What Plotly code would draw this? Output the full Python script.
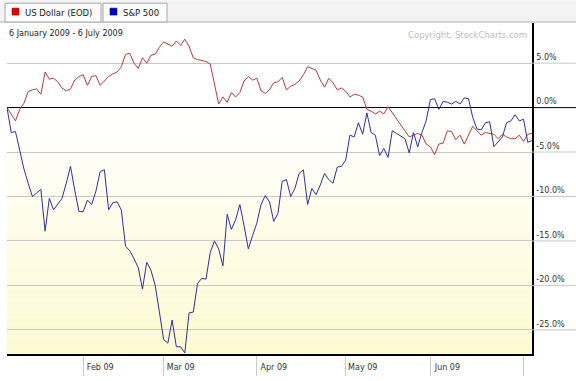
import plotly.graph_objects as go

# Trading-day index (0 = 6 Jan 2009, 124 = 6 Jul 2009)
days = list(range(125))

usd = [0.0, -0.8, -1.5, -0.2, 0.5, 1.8, 2.0, 2.1, 1.5, 4.0,
       3.2, 3.3, 2.9, 2.2, 1.9, 2.1, 3.1, 3.5, 3.7, 2.5,
       3.5, 3.6, 2.5, 3.0, 3.5, 3.8, 4.0, 4.6, 6.0, 6.1,
       5.0, 4.4, 5.6, 5.0, 5.9, 6.0, 6.8, 7.4, 7.1, 6.9,
       7.5, 7.0, 7.7, 6.9, 5.6, 5.4, 5.3, 5.2, 4.9, 2.5,
       0.4, 1.2, 0.6, 1.7, 1.2, 1.7, 3.0, 3.5, 3.1, 3.3,
       1.9, 1.6, 2.0, 2.8, 2.9, 3.4, 2.0, 2.4, 2.6, 3.0,
       3.7, 4.6, 4.4, 4.2, 3.1, 2.3, 3.3, 2.8, 2.0, 2.2,
       1.85, 1.2, 1.5, 1.4, 1.2, -0.2, -0.4, -0.7, -0.4, -0.7,
       0.1, -0.6, -1.3, -2.0, -2.6, -3.3, -3.1, -2.9, -3.1, -4.1,
       -4.4, -5.3, -4.1, -4.0, -2.6, -2.7, -3.6, -3.1, -4.1, -3.0,
       -2.1, -2.6, -3.1, -2.8, -2.9, -3.0, -3.5, -3.0, -3.3, -3.5,
       -3.5, -3.1, -3.8, -3.0, -2.9]

spx = [0.0, -2.8, -2.7, -4.8, -6.9, -8.5, -10.0, -9.6, -9.2, -13.9,
       -10.2, -11.5, -10.9, -10.2, -8.5, -6.6, -9.3, -11.7, -11.7, -10.4,
       -10.9, -9.4, -7.2, -7.0, -11.5, -10.7, -10.6, -11.5, -15.6, -16.1,
       -17.0, -18.0, -20.4, -17.4, -18.3, -20.0, -23.0, -26.1, -26.5, -23.9,
       -26.9, -26.9, -27.6, -23.1, -23.0, -19.8, -19.2, -19.3, -16.3, -15.0,
       -15.9, -17.8, -12.0, -13.7, -12.6, -10.9, -13.3, -15.9, -14.4, -13.0,
       -10.9, -9.9, -10.6, -12.8, -11.9, -8.3, -8.1, -10.0, -9.1, -7.4,
       -7.0, -10.9, -9.1, -9.8, -8.7, -7.4, -8.1, -8.5, -6.7, -6.6,
       -5.9, -3.1, -3.3, -1.7, -3.0, -0.6, -2.8, -3.1, -5.4, -4.6,
       -5.6, -2.6, -2.9, -3.2, -3.5, -5.1, -2.8, -4.4, -2.8, -1.5,
       0.9, 1.0, -0.2, 0.7, 0.6, 0.4, 0.7, 0.4, 1.1, 1.0,
       -1.1, -2.4, -2.5, -1.7, -1.6, -4.4, -3.9, -3.3, -1.7, -1.5,
       -0.8, -1.5, -1.3, -3.9, -3.7]

month_ticks = [18, 37, 59, 80, 100, 122]
month_labels = ["Feb 09", "Mar 09", "Apr 09", "May 09", "Jun 09", ""]
y_ticks = [5, 0, -5, -10, -15, -20, -25]

W, H = 576, 381
ML, MR, MT, MB = 7, 44, 23, 24
FONT = "DejaVu Sans"

fig = go.Figure()
fig.add_trace(go.Scatter(x=days, y=usd, mode="lines", name="US Dollar (EOD)",
                         line=dict(color="#b83c3c", width=1)))
fig.add_trace(go.Scatter(x=days, y=spx, mode="lines", name="S&P 500",
                         line=dict(color="#30309a", width=1)))

shapes = []
# background gradient (white top -> pale yellow bottom)
n = 40
top_c = (255, 255, 255)
bot_c = (253, 250, 208)
start = 0.72
for k in range(n):
    y0 = start * k / n
    y1 = start * (k + 1) / n
    t = 1 - (k + 0.5) / n
    c = tuple(int(round(top_c[j] + (bot_c[j] - top_c[j]) * t)) for j in range(3))
    shapes.append(dict(type="rect", xref="paper", yref="paper", x0=0, x1=1, y0=y0, y1=y1,
                       fillcolor="rgb(%d,%d,%d)" % c, line=dict(width=0), layer="below"))

# gridline extensions into right margin
ext = 1 + MR / (W - ML - MR)
for v in y_ticks:
    shapes.append(dict(type="line", xref="paper", yref="y", x0=1, x1=ext, y0=v, y1=v,
                       line=dict(color="#000000" if v == 0 else "#c8c8c8", width=1)))

# header band and legend tabs
ph = H - MT - MB
def py(pix):
    return 1 + (MT - pix) / ph
def px(pix):
    return (pix - ML) / (W - ML - MR)

shapes.append(dict(type="rect", xref="paper", yref="paper", x0=px(0), x1=px(W), y0=py(22), y1=py(0),
                   fillcolor="#f3f3f3", line=dict(width=0)))
shapes.append(dict(type="line", xref="paper", yref="paper", x0=px(0), x1=px(W), y0=py(22), y1=py(22),
                   line=dict(color="#b0b0b0", width=1)))
for a, b in [(5, 101), (103, 167)]:
    shapes.append(dict(type="rect", xref="paper", yref="paper", x0=px(a), x1=px(b), y0=py(22), y1=py(3),
                       fillcolor="#fbfbfb", line=dict(color="#a8a8a8", width=1)))
shapes.append(dict(type="rect", xref="paper", yref="paper", x0=px(12), x1=px(19), y0=py(15), y1=py(8),
                   fillcolor="#e00000", line=dict(color="#900000", width=0.5)))
shapes.append(dict(type="rect", xref="paper", yref="paper", x0=px(110), x1=px(117), y0=py(15), y1=py(8),
                   fillcolor="#0000c8", line=dict(color="#000080", width=0.5)))

annotations = [
    dict(text="US Dollar (EOD)", xref="paper", yref="paper", x=px(23), y=py(12.5),
         xanchor="left", yanchor="middle", showarrow=False, font=dict(family=FONT, size=8.5, color="#222")),
    dict(text="S&amp;P 500", xref="paper", yref="paper", x=px(121), y=py(12.5),
         xanchor="left", yanchor="middle", showarrow=False, font=dict(family=FONT, size=8.5, color="#222")),
    dict(text="6 January 2009 - 6 July 2009", xref="paper", yref="paper", x=px(7), y=py(34),
         xanchor="left", yanchor="middle", showarrow=False, font=dict(family=FONT, size=8, color="#222")),
    dict(text="Copyright, StockCharts.com", xref="paper", yref="paper", x=px(529), y=py(35),
         xanchor="right", yanchor="middle", showarrow=False, font=dict(family=FONT, size=8.5, color="#bdbdbd")),
]

fig.update_layout(
    width=W, height=H,
    margin=dict(l=ML, r=MR, t=MT, b=MB, pad=0),
    paper_bgcolor="white", plot_bgcolor="rgba(0,0,0,0)",
    showlegend=False,
    shapes=shapes, annotations=annotations,
    font=dict(family=FONT, size=8, color="#333"),
)
fig.update_xaxes(range=[0, 124], showgrid=False, zeroline=False,
                 tickvals=month_ticks, ticktext=month_labels,
                 ticks="outside", ticklen=20, tickcolor="#cccccc", tickwidth=1,
                 ticklabelshift=17, ticklabelstandoff=-15,
                 showline=True, linecolor="#000000", linewidth=1.5,
                 tickfont=dict(family=FONT, size=8, color="#333"))
fig.update_yaxes(side="right", range=[-27.72, 9.52],
                 tickvals=y_ticks, ticktext=["%.1f%%" % v for v in y_ticks],
                 showgrid=True, gridcolor="#c8c8c8", gridwidth=1,
                 zeroline=True, zerolinecolor="#000000", zerolinewidth=1,
                 showline=True, linecolor="#000000", linewidth=1.5,
                 ticks="", ticklabelshift=-6, ticklabelstandoff=1,
                 tickfont=dict(family=FONT, size=8, color="#333"))

fig.write_html("out.html", config={"displayModeBar": False},
               post_script="document.body.style.margin='0';document.body.style.overflow='hidden';")
